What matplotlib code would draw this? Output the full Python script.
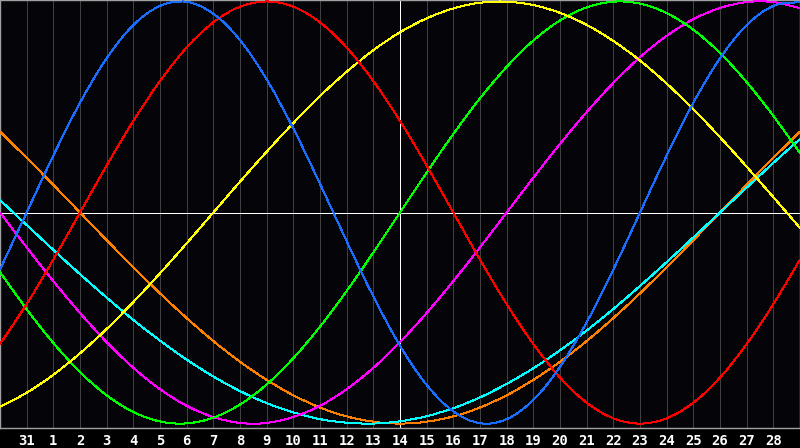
import numpy as np
import matplotlib
matplotlib.use("Agg")
import matplotlib.pyplot as plt
from matplotlib.path import Path
from matplotlib.patches import PathPatch

# day labels for grid positions 1..29 (position 0 = Jan 30, 15 = Feb 14)
day_labels = ["31"] + [str(d) for d in range(1, 29)]

# daily values (percent) for each cycle, positions 0..30
physical = [-27.0, -0.0, 27.0, 52.0, 73.1, 88.8, 97.9, 99.8, 94.2, 81.7, 63.1,
            39.8, 13.6, -13.6, -39.8, -63.1, -81.7, -94.2, -99.8, -97.9, -88.8, -73.1,
            -52.0, -27.0, -0.0, 27.0, 52.0, 73.1, 88.8, 97.9, 99.8]
emotional = [-62.3, -43.4, -22.3, -0.0, 22.3, 43.4, 62.3, 78.2, 90.1, 97.5, 100.0,
             97.5, 90.1, 78.2, 62.3, 43.4, 22.3, 0.0, -22.3, -43.4, -62.3, -78.2,
             -90.1, -97.5, -100.0, -97.5, -90.1, -78.2, -62.3, -43.4, -22.3]
intellectual = [-28.2, -45.8, -61.8, -75.6, -86.6, -94.5, -99.0, -99.9, -97.2, -91.0, -81.5,
                -69.0, -54.1, -37.2, -18.9, -0.0, 18.9, 37.2, 54.1, 69.0, 81.5, 91.0,
                97.2, 99.9, 99.0, 94.5, 86.6, 75.6, 61.8, 45.8, 28.2]
intuitive = [0.0, -16.5, -32.5, -47.6, -61.4, -73.6, -83.7, -91.6, -96.9, -99.7, -99.7,
             -96.9, -91.6, -83.7, -73.6, -61.4, -47.6, -32.5, -16.5, -0.0, 16.5, 32.5,
             47.6, 61.4, 73.6, 83.7, 91.6, 96.9, 99.7, 99.7, 96.9]
aesthetic = [-92.0, -85.4, -76.9, -66.7, -55.2, -42.4, -28.8, -14.6, -0.0, 14.6, 28.8,
             42.4, 55.2, 66.7, 76.9, 85.4, 92.0, 96.7, 99.4, 99.9, 98.3, 94.6,
             88.9, 81.3, 72.0, 61.1, 48.9, 35.7, 21.7, 7.3, -7.3]
awareness = [38.3, 25.9, 13.1, 0.0, -13.1, -25.9, -38.3, -50.0, -60.9, -70.7, -79.3,
             -86.6, -92.4, -96.6, -99.1, -100.0, -99.1, -96.6, -92.4, -86.6, -79.3, -70.7,
             -60.9, -50.0, -38.3, -25.9, -13.1, -0.0, 13.1, 25.9, 38.3]
spiritual = [5.9, -5.9, -17.7, -29.2, -40.3, -50.9, -60.7, -69.7, -77.7, -84.6, -90.3,
             -94.7, -97.9, -99.6, -100.0, -98.9, -96.5, -92.7, -87.6, -81.2, -73.8, -65.3,
             -55.9, -45.7, -34.8, -23.5, -11.8, -0.0, 11.8, 23.5, 34.8]

series = [
    (awareness, '#ff8000'),
    (spiritual, '#00ffff'),
    (intuitive, '#ff00ff'),
    (intellectual, '#00ff00'),
    (aesthetic, '#ffff00'),
    (emotional, '#ff0000'),
    (physical, '#1a6eff'),
]


def smooth_path(xs, ys):
    """Cubic Bezier path through the daily points (Catmull-Rom tangents)."""
    xs = np.asarray(xs, float)
    ys = np.asarray(ys, float)
    n = len(xs)
    pts = np.column_stack([xs, ys])
    verts = [pts[0]]
    codes = [Path.MOVETO]
    for i in range(n - 1):
        p0 = pts[i - 1] if i > 0 else 2 * pts[0] - pts[1]
        p1 = pts[i]
        p2 = pts[i + 1]
        p3 = pts[i + 2] if i + 2 < n else 2 * pts[-1] - pts[-2]
        c1 = p1 + (p2 - p0) / 6.0
        c2 = p2 - (p3 - p1) / 6.0
        verts += [c1, c2, p2]
        codes += [Path.CURVE4] * 3
    return Path(verts, codes)


fig = plt.figure(figsize=(8, 4.48), dpi=100)
fig.patch.set_facecolor('#000000')
ax = fig.add_axes([0, 20 / 448, 1, 428 / 448])
ax.set_facecolor('#050409')

x = np.arange(len(physical))
ax.set_xlim(0, 30)
ax.set_ylim(-102.1, 100.7)

px = 0.72  # one pixel in points at dpi 100
grid_pos = np.arange(1, 30)
for g in grid_pos:
    ax.axvline(g, color='#404040', lw=px, zorder=1, antialiased=False)

ax.axhline(0, color='#ffffff', lw=px, zorder=2, antialiased=False)
ax.axvline(15, color='#ffffff', lw=px, zorder=2, antialiased=False)

for vals, col in series:
    ax.add_patch(PathPatch(smooth_path(x, vals), fill=False, edgecolor=col,
                           lw=px, zorder=3, antialiased=False))

ax.set_xticks(grid_pos)
ax.set_xticklabels(day_labels)
ax.set_yticks([])
ax.tick_params(axis='x', length=0, pad=4, colors='#ffffff')
for lab in ax.get_xticklabels():
    lab.set_fontfamily('DejaVu Sans Mono')
    lab.set_fontweight('bold')
    lab.set_fontsize(10)
for s in ax.spines.values():
    s.set_color('#a0a0a0')
    s.set_linewidth(px * 1.4)

fig.savefig("out.png", dpi=100, facecolor=fig.get_facecolor())
